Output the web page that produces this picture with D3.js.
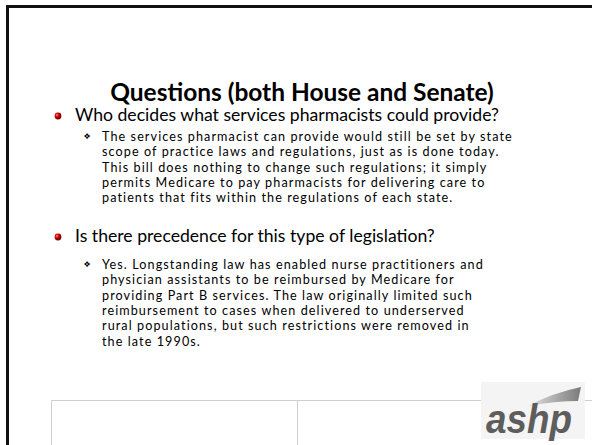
<!DOCTYPE html>
<html>
<head>
<meta charset="utf-8">
<script src="https://cdn.jsdelivr.net/npm/d3@7"></script>
<style>
  body { margin: 0; background: #fff; }
  svg { display: block; }
</style>
</head>
<body>
<svg id="slide" width="592" height="445"></svg>
<script>
// slide content
const slideTitle = "Questions (both House and Senate)";
const questions = [
  "Who decides what services pharmacists could provide?",
  "Is there precedence for this type of legislation?"
];
const answers = [
  [
    "The services pharmacist can provide would still be set by state",
    "scope of practice laws and regulations, just as is done today.",
    "This bill does nothing to change such regulations; it simply",
    "permits Medicare to pay pharmacists for delivering care to",
    "patients that fits within the regulations of each state."
  ],
  [
    "Yes. Longstanding law has enabled nurse practitioners and",
    "physician assistants to be reimbursed by Medicare for",
    "providing Part B services. The law originally limited such",
    "reimbursement to cases when delivered to underserved",
    "rural populations, but such restrictions were removed in",
    "the late 1990s."
  ]
];
const logoText = "ashp";

const svg = d3.select("#slide");
const font = "Lato, 'Open Sans', sans-serif";

// bullet gradient
const defs = svg.append("defs");
const grad = defs.append("radialGradient").attr("id", "ball")
  .attr("cx", "35%").attr("cy", "35%").attr("r", "65%");
grad.append("stop").attr("offset", "0%").attr("stop-color", "#ff9a9a");
grad.append("stop").attr("offset", "40%").attr("stop-color", "#d40000");
grad.append("stop").attr("offset", "100%").attr("stop-color", "#6a0000");

const swoosh = defs.append("linearGradient").attr("id", "swoosh")
  .attr("x1", "0%").attr("x2", "100%");
swoosh.append("stop").attr("offset", "0%").attr("stop-color", "#e2e2e2");
swoosh.append("stop").attr("offset", "100%").attr("stop-color", "#7a7a7a");

// frame (top + left only, slide runs off the window)
svg.append("path")
  .attr("d", "M7.5,445 V6.5 H592")
  .attr("fill", "none").attr("stroke", "#111").attr("stroke-width", 3);

// helper: scale font so a reference line hits a measured width
function fit(sel, target) {
  const base = +sel.attr("font-size");
  const w = sel.node().getComputedTextLength();
  return base * target / w;
}

// title
const title = svg.append("text")
  .attr("x", 302).attr("y", 101)
  .attr("text-anchor", "middle")
  .attr("font-family", font).attr("font-weight", "bold")
  .attr("font-size", 28).attr("fill", "#000")
  .text(slideTitle);
title.attr("font-size", fit(title, 384));

// vertical layout of the two question blocks
const qBase = [121, 242];
const aBase = [141, 269];
const lineStep = 15.3;

const y = d3.scaleLinear().domain([0, 1]).range([0, lineStep]);

// question size from a reference line
const probeQ = svg.append("text").attr("font-family", font).attr("font-size", 16).text(questions[1]);
const qSize = fit(probeQ, 360);
probeQ.remove();

// answers: keep glyphs compact (tight leading) and make up width with spacing
const aSize = 12.6;
const refLine = answers[0][0];
const probeA = svg.append("text").attr("font-family", font).attr("font-size", aSize).text(refLine);
const aSpacing = (411 - probeA.node().getComputedTextLength()) / refLine.length;
probeA.remove();

questions.forEach((q, i) => {
  const g = svg.append("g");
  g.append("circle")
    .attr("cx", 58).attr("cy", qBase[i] - 5).attr("r", 3.4)
    .attr("fill", "url(#ball)");
  g.append("text")
    .attr("x", 75).attr("y", qBase[i])
    .attr("font-family", font).attr("font-size", qSize).attr("fill", "#000")
    .text(q);

  g.append("text")
    .attr("x", 87).attr("y", aBase[i] - 2)
    .attr("text-anchor", "middle")
    .attr("font-family", "'DejaVu Sans', sans-serif").attr("font-size", 8)
    .attr("fill", "#000")
    .text("\u2756");

  g.selectAll(".ans")
    .data(answers[i])
    .join("text")
    .attr("class", "ans")
    .attr("x", 102)
    .attr("y", (d, k) => aBase[i] + y(k))
    .attr("font-family", font).attr("font-size", aSize)
    .attr("letter-spacing", aSpacing)
    .attr("fill", "#000")
    .text(d => d);
});

// footer table lines
const footer = svg.append("g")
  .attr("fill", "none").attr("stroke", "#cfcfcf").attr("stroke-width", 1);
footer.append("path").attr("d", "M51.5,445 V400.5 H592");
footer.append("path").attr("d", "M297.5,400.5 V445");

// logo
const logo = svg.append("g");
logo.append("rect")
  .attr("x", 481).attr("y", 382).attr("width", 104).attr("height", 57)
  .attr("fill", "#f4f4f4");
logo.append("path")
  .attr("d", "M528,406 Q552,393 581,387 L578,401 Q556,401 528,406 Z")
  .attr("fill", "url(#swoosh)");
logo.append("text")
  .attr("x", 486).attr("y", 433)
  .attr("font-family", "'Liberation Sans', Arial, sans-serif")
  .attr("font-weight", "bold").attr("font-style", "italic")
  .attr("font-size", 40).attr("fill", "#5d5d5d")
  .attr("textLength", 86).attr("lengthAdjust", "spacingAndGlyphs")
  .text(logoText);
</script>
</body>
</html>
